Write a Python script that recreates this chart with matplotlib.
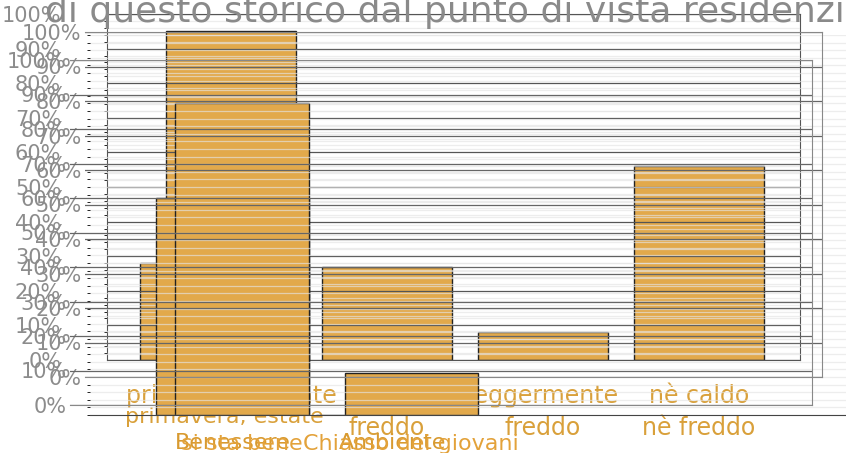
import matplotlib
matplotlib.use("Agg")
import matplotlib.pyplot as plt
from matplotlib.ticker import MultipleLocator, FuncFormatter

# dati
clima_labels = ["primavera, estate", "molto\nfreddo", "leggermente\nfreddo", "nè caldo\nnè freddo"]
clima_values = [95, 27, 8, 56]

fondo_labels = ["primavera, estate"]
fondo_values = [28]

benessere_labels = ["Benessere", "Ambiente"]
benessere_values = [57, 0]

disturbo_labels = ["si sta bene", "Chiasso dei giovani"]
disturbo_values = [82, 11]

percent_ticks = list(range(0, 101, 10))
titolo = "di questo storico dal punto di vista residenziale"

W, H = 846, 453
BAR = "#E2A94B"
ORANGE = "#D9A03A"
GREY = "#8c8c8c"

fig = plt.figure(figsize=(W / 100, H / 100), dpi=100)
fig.patch.set_facecolor("white")


def px_axes(left, right, y0, y100, z):
    # rettangolo in pixel -> coordinate figura
    ax = fig.add_axes([left / W, 1 - y0 / H, (right - left) / W, (y0 - y100) / H], zorder=z)
    ax.patch.set_visible(False)
    ax.set_ylim(0, 100)
    for s in ax.spines.values():
        s.set_visible(False)
    ax.tick_params(length=0)
    return ax


def stripes(ax):
    ax.yaxis.set_minor_locator(MultipleLocator(2))
    ax.grid(axis="y", which="minor", color="#e4e4e4", alpha=0.65, lw=0.9)


pct = FuncFormatter(lambda v, p: f"{v:.0f}%")

# livello di fondo
ax0 = px_axes(80, 846, 360, 14, 1)
ax0.bar(range(len(fondo_values)), fondo_values, width=0.94, color=BAR, edgecolor="#222", lw=1)
ax0.set_xlim(-0.803, 3.45)
ax0.set_xticks(range(len(fondo_labels)), fondo_labels, color=ORANGE, fontsize=16)
ax0.tick_params(axis="x", pad=34)
ax0.set_yticks([])

# grafico principale (clima)
ax1 = px_axes(107, 800, 360, 14, 2)
ax1.bar(range(len(clima_values)), clima_values, width=0.833, color=BAR, edgecolor="#222", lw=1)
ax1.set_xlim(-0.795, 3.647)
ax1.set_axisbelow(False)
ax1.set_yticks(percent_ticks)
ax1.yaxis.set_major_formatter(pct)
ax1.grid(axis="y", which="major", color="#555", lw=0.9)
stripes(ax1)
ax1.tick_params(axis="y", colors=GREY, labelsize=15, pad=33)
ax1.set_xticks(range(len(clima_labels)), clima_labels, color=ORANGE, fontsize=17, linespacing=1.45)
ax1.tick_params(axis="x", pad=17)
for s in ["left", "right", "top", "bottom"]:
    ax1.spines[s].set_visible(True)
    ax1.spines[s].set_color("#555")

# livello intermedio (benessere)
ax2 = px_axes(80, 900, 415, 35, 3)
ax2.bar(range(len(benessere_values)), benessere_values, width=0.956, color=BAR, edgecolor="#222", lw=1)
ax2.set_xlim(-0.956, 4.17)
ax2.set_yticks([])
ax2.set_xticks(range(len(benessere_labels)), benessere_labels, color="#D89A30", fontsize=16)
ax2.tick_params(axis="x", pad=13)

# livello davanti (disturbo)
ax3 = px_axes(90, 900, 415, 35, 4)
ax3.bar(range(len(disturbo_values)), disturbo_values, width=0.787, color=BAR, edgecolor="#222", lw=1)
ax3.set_xlim(-0.899, 3.89)
ax3.set_yticks([])
stripes(ax3)
ax3.set_xticks(range(len(disturbo_labels)), disturbo_labels, color="#E3A23A", fontsize=16)
ax3.tick_params(axis="x", pad=14)
ax3.spines["bottom"].set_visible(True)
ax3.spines["bottom"].set_color("#444")

# griglie sovrapposte
for left, right, y0, y100, pad, z in [(85, 822, 377, 32, 2.5, 5), (70, 812, 405, 60, 2.5, 6)]:
    axg = px_axes(left, right, y0, y100, z)
    axg.set_xticks([])
    axg.set_yticks(percent_ticks)
    axg.yaxis.set_major_formatter(pct)
    axg.grid(axis="y", color="#666", lw=0.9)
    axg.tick_params(axis="y", colors=GREY, labelsize=15, pad=pad)
    for s in ["right", "top", "bottom"]:
        axg.spines[s].set_visible(True)
        axg.spines[s].set_color("#888")

fig.text(45 / W, 1 - 22 / H, titolo, color="#8a8a8a", fontsize=26, va="baseline", ha="left")

fig.savefig("out.png", dpi=100)
